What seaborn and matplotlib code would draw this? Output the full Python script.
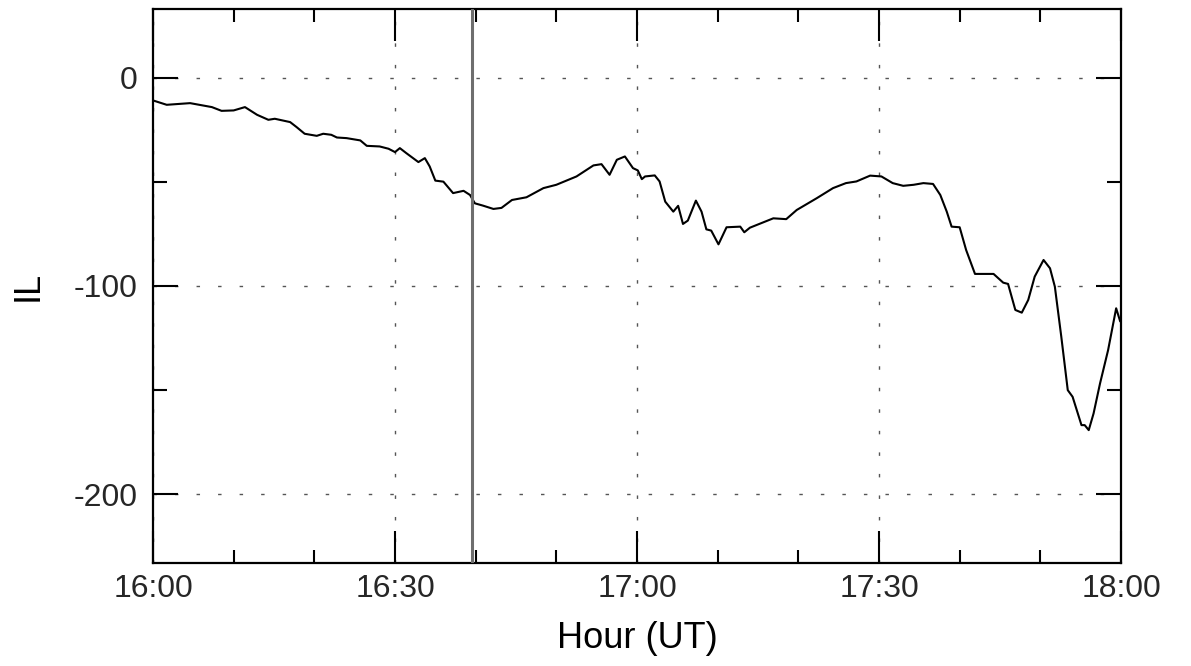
import numpy as np
import pandas as pd
import matplotlib
matplotlib.use("Agg")
import matplotlib.pyplot as plt
import seaborn as sns
from matplotlib.ticker import FixedLocator, MultipleLocator

# minutes after 16:00 UT
minutes = [0, 1.7, 4.6, 7.3, 8.5, 10, 11.4, 12.9, 14.3, 15.1, 17, 17.8, 18.8, 20.3,
           21.1, 22.1, 22.8, 24, 25.7, 26.5, 28.1, 29.2, 30, 30.6, 31.4, 32.9, 33.7,
           34.3, 35, 36, 37.2, 38.5, 39.3, 39.9, 40.9, 42.2, 43.2, 44.5, 46.3, 48.4,
           50, 52.5, 54.6, 55.6, 56.6, 57.5, 58.5, 59.5, 60.1, 60.6, 61.0, 62.2, 62.8,
           63.5, 64.5, 65.1, 65.7, 66.3, 67.3, 68.0, 68.6, 69.2, 70.1, 71.1, 72.8, 73.3,
           74.0, 76.9, 78.5, 79.8, 82.3, 84.3, 85.9, 87.2, 88.9, 90.3, 91.7, 93, 94.3,
           95.5, 96.7, 97.6, 98.4, 99.0, 100.0, 100.8, 101.9, 102.7, 104.2, 105.4,
           106.0, 106.9, 107.7, 108.5, 109.3, 110.4, 111.2, 111.8, 112.6, 113.4,
           114.0, 115.1, 115.5, 116.0, 116.6, 117.4, 118.4, 119.4, 119.9]
il_values = [-10.9, -13.0, -12.2, -14.1, -15.9, -15.7, -14.1, -17.8, -20.2, -19.7, -21.3,
             -23.7, -26.9, -27.9, -26.9, -27.4, -28.7, -29.0, -30.1, -32.7, -33.0, -34.1,
             -35.7, -33.8, -36.2, -40.5, -38.6, -42.6, -49.4, -49.9, -55.4, -54.3, -56.3,
             -60.3, -61.4, -63.0, -62.5, -58.7, -57.4, -53.0, -51.4, -47.4, -42.1, -41.5,
             -46.6, -39.4, -37.8, -43.4, -44.5, -48.7, -47.4, -46.9, -49.8, -59.5, -64.3,
             -61.5, -70.2, -68.6, -59.0, -64.3, -72.8, -73.4, -80.0, -71.8, -71.5, -74.2,
             -72.0, -67.5, -67.9, -63.5, -57.8, -53.0, -50.6, -49.8, -47.0, -47.4, -50.6,
             -51.9, -51.4, -50.6, -51.0, -56.3, -64.3, -71.5, -71.8, -82.7, -94.2, -94.2,
             -94.2, -98.4, -99.0, -111.5, -112.8, -106.7, -95.5, -87.5, -91.5, -100.3,
             -124.4, -150.0, -153.2, -166.8, -166.8, -169.2, -161.2, -146.8, -130.8,
             -110.7, -117.0]

x_tick_pos = [0, 30, 60, 90, 120]
x_tick_labels = ["16:00", "16:30", "17:00", "17:30", "18:00"]
y_tick_pos = [0, -100, -200]
y_tick_labels = ["0", "-100", "-200"]
event_minute = 39.6

df = pd.DataFrame({"minutes": minutes, "IL": il_values})

sns.set_theme(style="white")
plt.rcParams["font.family"] = ["Liberation Sans", "DejaVu Sans"]

fig = plt.figure(figsize=(11.91, 6.66), dpi=100)
ax = fig.add_axes([153 / 1191, 1 - 563 / 666, (1121 - 153) / 1191, (563 - 9) / 666])

sns.lineplot(data=df, x="minutes", y="IL", ax=ax, color="black", linewidth=1.5,
             zorder=3)
ax.axvline(event_minute, color="#6e6e6e", linewidth=2.2, zorder=4)

ax.set_xlim(0, 120)
ax.set_ylim(-233, 33)

ax.xaxis.set_major_locator(FixedLocator(x_tick_pos))
ax.set_xticklabels(x_tick_labels)
ax.xaxis.set_minor_locator(MultipleLocator(10))
ax.yaxis.set_major_locator(FixedLocator(y_tick_pos))
ax.set_yticklabels(y_tick_labels)
ax.yaxis.set_minor_locator(MultipleLocator(50))

ax.tick_params(axis="x", which="major", direction="in", length=23, width=1.5,
               top=True, bottom=True, labelsize=23, pad=8, color="black")
ax.tick_params(axis="x", which="minor", direction="in", length=9.5, width=1.5,
               top=True, bottom=True, color="black")
ax.tick_params(axis="y", which="major", direction="in", length=18, width=1.5,
               left=True, right=True, labelsize=23, pad=11, color="black")
ax.tick_params(axis="y", which="minor", direction="in", length=10, width=1.5,
               left=True, right=True, color="black")

for s in ax.spines.values():
    s.set_visible(True)
    s.set_color("black")
    s.set_linewidth(1.6)

ax.grid(True, which="major", color="#555555", linewidth=1.0,
        linestyle=(0, (2.5, 13)))

ax.set_xlabel("Hour (UT)", fontsize=26, labelpad=12, color="black")
ax.set_ylabel("IL", fontsize=26, labelpad=20, color="black")

fig.savefig("out.png", dpi=100, facecolor="white")
